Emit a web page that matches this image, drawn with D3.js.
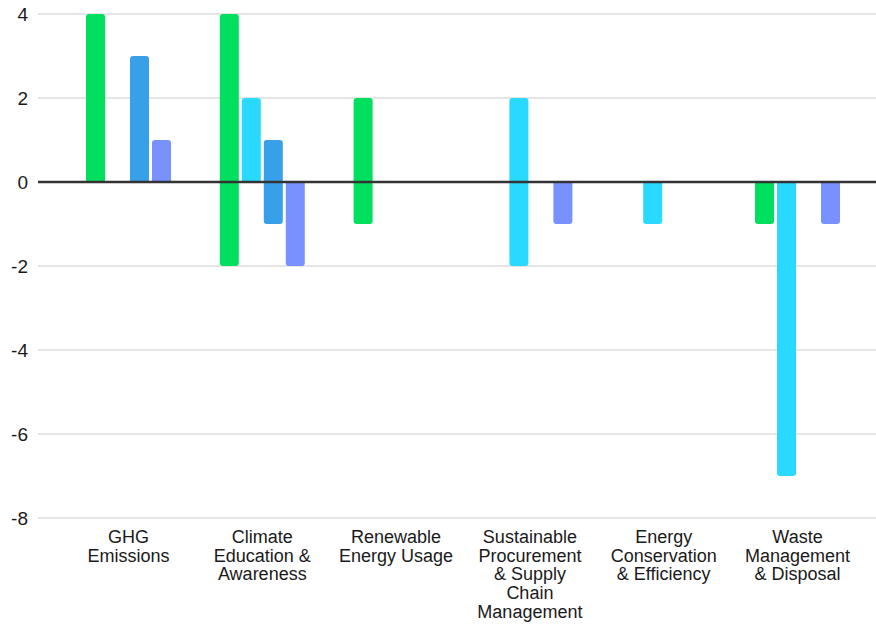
<!DOCTYPE html>
<html>
<head>
<meta charset="utf-8">
<script src="https://cdn.jsdelivr.net/npm/d3@7"></script>
<style>
  html, body { margin: 0; padding: 0; background: #fff; }
  svg text { font-family: "Liberation Sans", Arial, Helvetica, sans-serif; fill: #1a1a1a; }
</style>
</head>
<body>
<svg id="chart" width="876" height="626"></svg>
<script>
// Categories (multi-line labels)
const categories = [
  ["GHG", "Emissions"],
  ["Climate", "Education &", "Awareness"],
  ["Renewable", "Energy Usage"],
  ["Sustainable", "Procurement", "& Supply", "Chain", "Management"],
  ["Energy", "Conservation", "& Efficiency"],
  ["Waste", "Management", "& Disposal"]
];
const seriesNames = ["Series 1", "Series 2", "Series 3", "Series 4"];
const seriesColors = ["#00e05e", "#29d9ff", "#38a0e8", "#7891ff"];

// Positive and negative parts of each series, per category
const series1Pos = [4, 4, 2, 0, 0, 0];
const series1Neg = [0, -2, -1, 0, 0, -1];
const series2Pos = [0, 2, 0, 2, 0, 0];
const series2Neg = [0, 0, 0, -2, -1, -7];
const series3Pos = [3, 1, 0, 0, 0, 0];
const series3Neg = [0, -1, 0, 0, 0, 0];
const series4Pos = [1, 0, 0, 0, 0, 0];
const series4Neg = [0, -2, 0, -1, 0, -1];

const yTicks = [4, 2, 0, -2, -4, -6, -8];

const posParts = [series1Pos, series2Pos, series3Pos, series4Pos];
const negParts = [series1Neg, series2Neg, series3Neg, series4Neg];

const svg = d3.select("#chart");

const y = d3.scaleLinear().domain([-8, 4]).range([518, 14]);
const x0 = d3.scaleBand().domain(d3.range(categories.length)).range([61.6, 864.4]);
const x1 = d3.scaleBand().domain(d3.range(seriesNames.length)).range([0, 85]).paddingInner(0.136);

// Gridlines
svg.append("g").selectAll("line")
  .data(yTicks.filter(t => t !== 0))
  .join("line")
  .attr("x1", 38).attr("x2", 876)
  .attr("y1", d => y(d)).attr("y2", d => y(d))
  .attr("stroke", "#cccccc").attr("stroke-width", 1.2);

// Y tick labels
svg.append("g").selectAll("text")
  .data(yTicks)
  .join("text")
  .attr("x", 28).attr("y", d => y(d))
  .attr("dy", "0.36em")
  .attr("text-anchor", "end")
  .attr("font-size", 19)
  .text(d => d);

// Bar segment with rounded far end
function barPath(xl, w, v) {
  const r = Math.min(3, Math.abs(y(v) - y(0)) / 2);
  const y0 = y(0), y1 = y(v);
  if (v > 0) {
    return `M${xl},${y0} V${y1 + r} Q${xl},${y1} ${xl + r},${y1} H${xl + w - r} Q${xl + w},${y1} ${xl + w},${y1 + r} V${y0} Z`;
  } else {
    return `M${xl},${y0} V${y1 - r} Q${xl},${y1} ${xl + r},${y1} H${xl + w - r} Q${xl + w},${y1} ${xl + w},${y1 - r} V${y0} Z`;
  }
}

const segs = [];
categories.forEach((c, ci) => {
  seriesNames.forEach((s, si) => {
    [posParts[si][ci], negParts[si][ci]].forEach(v => {
      if (v !== 0) segs.push({ ci, si, v });
    });
  });
});

const groupOffset = x0.bandwidth() / 2 - 42.5;
svg.append("g").selectAll("path")
  .data(segs)
  .join("path")
  .attr("d", d => barPath(x0(d.ci) + groupOffset + x1(d.si), x1.bandwidth(), d.v))
  .attr("fill", d => seriesColors[d.si]);

// Zero baseline
svg.append("line")
  .attr("x1", 38).attr("x2", 876)
  .attr("y1", y(0)).attr("y2", y(0))
  .attr("stroke", "#333333").attr("stroke-width", 2.4);

// Category labels
const lab = svg.append("g").selectAll("text")
  .data(categories)
  .join("text")
  .attr("text-anchor", "middle")
  .attr("font-size", 18)
  .attr("x", (d, i) => x0(i) + x0.bandwidth() / 2)
  .attr("y", 543);
lab.selectAll("tspan")
  .data(d => d)
  .join("tspan")
  .attr("x", function () { return d3.select(this.parentNode).attr("x"); })
  .attr("dy", (d, i) => i === 0 ? 0 : 18.7)
  .text(d => d);
</script>
</body>
</html>
